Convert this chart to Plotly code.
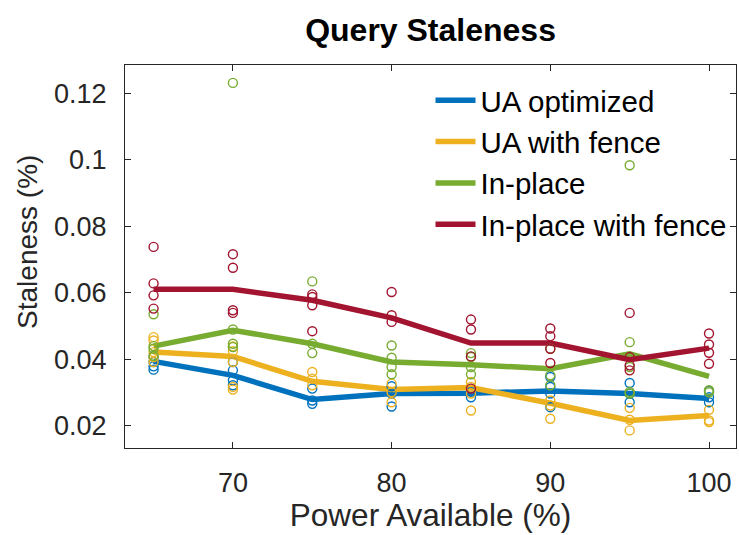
import plotly.graph_objects as go

# Power budget levels (%)
power = [65, 70, 75, 80, 85, 90, 95, 100]

series_names = ["UA optimized", "UA with fence", "In-place", "In-place with fence"]
series_colors = ["#0072BD", "#EDB120", "#77AC30", "#A2142F"]

# Mean staleness per power level
mean_ua_opt = [0.0393, 0.0351, 0.0278, 0.0296, 0.0297, 0.0304, 0.0296, 0.0281]
mean_ua_fence = [0.0421, 0.0408, 0.0333, 0.0308, 0.0314, 0.0267, 0.0215, 0.0230]
mean_inplace = [0.0439, 0.0487, 0.0446, 0.0391, 0.0383, 0.0371, 0.0416, 0.0348]
mean_inplace_fence = [0.0610, 0.0610, 0.0577, 0.0524, 0.0448, 0.0448, 0.0398, 0.0433]

# Individual runs per power level
runs_ua_opt = [
    [0.0406, 0.0391, 0.0378, 0.0368],
    [0.0391, 0.0366, 0.0336, 0.0321],
    [0.0311, 0.0275, 0.0265],
    [0.0318, 0.0296, 0.0257],
    [0.0301, 0.0285],
    [0.0346, 0.0316, 0.0296, 0.0255],
    [0.0328, 0.0296, 0.0270],
    [0.0304, 0.0285, 0.0270],
]
runs_ua_fence = [
    [0.0466, 0.0456, 0.0421, 0.0406, 0.0391],
    [0.0438, 0.0424, 0.0391, 0.0316, 0.0308],
    [0.0361, 0.0341, 0.0321],
    [0.0326, 0.0300, 0.0270],
    [0.0331, 0.0316, 0.0296, 0.0245],
    [0.0275, 0.0260, 0.0220],
    [0.0253, 0.0217, 0.0185],
    [0.0247, 0.0215, 0.0210],
]
runs_inplace = [
    [0.0535, 0.0439, 0.0431, 0.0410],
    [0.1232, 0.0489, 0.0446, 0.0436],
    [0.0634, 0.0446, 0.0418],
    [0.0441, 0.0404, 0.0376, 0.0354],
    [0.0418, 0.0406, 0.0376, 0.0354],
    [0.0431, 0.0351, 0.0321],
    [0.0984, 0.0451, 0.0376, 0.0301, 0.0296],
    [0.0306, 0.0300],
]
runs_inplace_fence = [
    [0.0738, 0.0628, 0.0592, 0.0552],
    [0.0716, 0.0675, 0.0547, 0.0539],
    [0.0595, 0.0587, 0.0562, 0.0484],
    [0.0602, 0.0532, 0.0512],
    [0.0519, 0.0489, 0.0408, 0.0311],
    [0.0492, 0.0469, 0.0431, 0.0388],
    [0.0539, 0.0406, 0.0381, 0.0366],
    [0.0477, 0.0444, 0.0419, 0.0386],
]

x_ticks = [70, 80, 90, 100]
y_ticks = [0.02, 0.04, 0.06, 0.08, 0.1, 0.12]
y_tick_text = ["0.02", "0.04", "0.06", "0.08", "0.1", "0.12"]

means = [mean_ua_opt, mean_ua_fence, mean_inplace, mean_inplace_fence]
runs = [runs_ua_opt, runs_ua_fence, runs_inplace, runs_inplace_fence]

FONT = "Liberation Sans, Arial, Helvetica, sans-serif"
AXIS_COLOR = "#262626"

fig = go.Figure()

# mean lines (these carry the legend)
for name, color, m in zip(series_names, series_colors, means):
    fig.add_trace(go.Scatter(
        x=power, y=m, mode="lines", name=name,
        line=dict(color=color, width=5.5),
    ))

# individual runs as open circles
for name, color, r in zip(series_names, series_colors, runs):
    xs, ys = [], []
    for p, vals in zip(power, r):
        xs.extend([p] * len(vals))
        ys.extend(vals)
    fig.add_trace(go.Scatter(
        x=xs, y=ys, mode="markers", name=name, showlegend=False,
        marker=dict(symbol="circle-open", size=9, color=color,
                    line=dict(width=1.4, color=color)),
    ))

fig.update_layout(
    width=739, height=535,
    margin=dict(l=125, r=3, t=65, b=87, autoexpand=False),
    paper_bgcolor="white", plot_bgcolor="white",
    font=dict(family=FONT, color=AXIS_COLOR),
    title=dict(text="<b>Query Staleness</b>", x=0.5826, xanchor="center",
               y=0.944, yanchor="middle",
               font=dict(family=FONT, size=32, color="black")),
    showlegend=True,
    legend=dict(x=0.5, y=0.975, xanchor="left", yanchor="top",
                bgcolor="rgba(255,255,255,0)", borderwidth=0,
                font=dict(family=FONT, size=29.5, color="black"),
                tracegroupgap=0, itemwidth=40),
    xaxis=dict(
        range=[63.2, 101.7], tickmode="array", tickvals=x_ticks,
        ticks="inside", ticklen=6, tickwidth=1, tickcolor=AXIS_COLOR,
        showline=True, linecolor=AXIS_COLOR, linewidth=1.2, mirror="ticks",
        showgrid=False, zeroline=False,
        tickfont=dict(family=FONT, size=27, color=AXIS_COLOR),
        ticklabelstandoff=10,
        title=dict(text="Power Available (%)", standoff=3,
                   font=dict(family=FONT, size=31.5, color=AXIS_COLOR)),
        automargin=False,
    ),
    yaxis=dict(
        range=[0.0132, 0.1286], tickmode="array", tickvals=y_ticks,
        ticktext=y_tick_text,
        ticks="inside", ticklen=6, tickwidth=1, tickcolor=AXIS_COLOR,
        showline=True, linecolor=AXIS_COLOR, linewidth=1.2, mirror="ticks",
        showgrid=False, zeroline=False,
        tickfont=dict(family=FONT, size=27, color=AXIS_COLOR),
        ticklabelstandoff=12,
        automargin=False,
    ),
    annotations=[dict(
        text="Staleness (%)", textangle=-90,
        xref="paper", yref="paper", x=-0.1588, y=0.538,
        xanchor="center", yanchor="middle", showarrow=False,
        font=dict(family=FONT, size=28, color=AXIS_COLOR),
    )],
)

fig.write_html("out.html")
